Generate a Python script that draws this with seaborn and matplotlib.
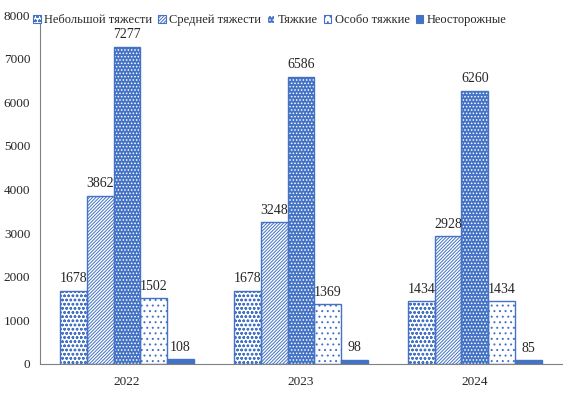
import matplotlib
matplotlib.use("Agg")
import matplotlib.pyplot as plt
import seaborn as sns
import pandas as pd
from matplotlib.patches import Patch

# Данные
years = ["2022", "2023", "2024"]
categories = ["Небольшой тяжести", "Средней тяжести", "Тяжкие", "Особо тяжкие", "Неосторожные"]
small = [1678, 1678, 1434]
medium = [3862, 3248, 2928]
grave = [7277, 6586, 6260]
very_grave = [1502, 1369, 1434]
careless = [108, 98, 85]

series = [small, medium, grave, very_grave, careless]
rows = []
for cat, vals in zip(categories, series):
    for y, v in zip(years, vals):
        rows.append({"year": y, "cat": cat, "value": v})
df = pd.DataFrame(rows)

sns.set_style("white")
plt.rcParams["font.family"] = ["Liberation Serif", "DejaVu Serif"]
plt.rcParams["hatch.linewidth"] = 0.7

blue = "#4472C4"
# штриховка, цвет заливки, цвет штриховки
styles = [
    ("oooo", "white", blue),
    ("//////////", "white", blue),
    (".....", blue, "white"),
    ("...", "white", blue),
    ("", blue, blue),
]

fig = plt.figure(figsize=(5.64, 3.99), dpi=100)
ax = fig.add_axes([0.071, 0.088, 0.925, 0.874])

sns.barplot(data=df, x="year", y="value", hue="cat", hue_order=categories,
            width=0.77, ax=ax, legend=False, color=blue)

for cont, (h, fc, hc) in zip(ax.containers, styles):
    for bar in cont:
        bar.set_facecolor(fc)
        bar.set_hatch(h)
        bar.set_edgecolor(hc)
        bar.set_linewidth(0)
        # контур поверх
        ax.add_patch(plt.Rectangle(bar.get_xy(), bar.get_width(), bar.get_height(),
                                   fill=False, edgecolor=blue, linewidth=1.0))
    ax.bar_label(cont, padding=4, fontsize=10)

ax.set_ylim(0, 8000)
ax.set_yticks(range(0, 8001, 1000))
ax.set_xlim(-0.5, 2.5)
ax.set_xlabel("")
ax.set_ylabel("")
ax.tick_params(axis="both", labelsize=9.5, length=0)
ax.tick_params(axis="y", pad=7)
ax.tick_params(axis="x", pad=9)

# засечки на границах категорий
ax.set_xticks([-0.5, 0.5, 1.5, 2.5], minor=True)
ax.tick_params(axis="x", which="minor", length=5, color="#808080", direction="out")

for s in ["top", "right"]:
    ax.spines[s].set_visible(False)
ax.spines["left"].set_color("#808080")
ax.spines["bottom"].set_color("#808080")

handles = [Patch(facecolor=fc, edgecolor=hc, hatch=h) for h, fc, hc in styles]
for hd in handles:
    hd.set_linewidth(0.8)
ax.legend(handles, categories, loc="upper left", bbox_to_anchor=(-0.035, 1.035),
          ncol=5, frameon=False, fontsize=9, handlelength=0.6, handleheight=0.6,
          handletextpad=0.3, columnspacing=0.45)

plt.savefig("out.png", dpi=100)
